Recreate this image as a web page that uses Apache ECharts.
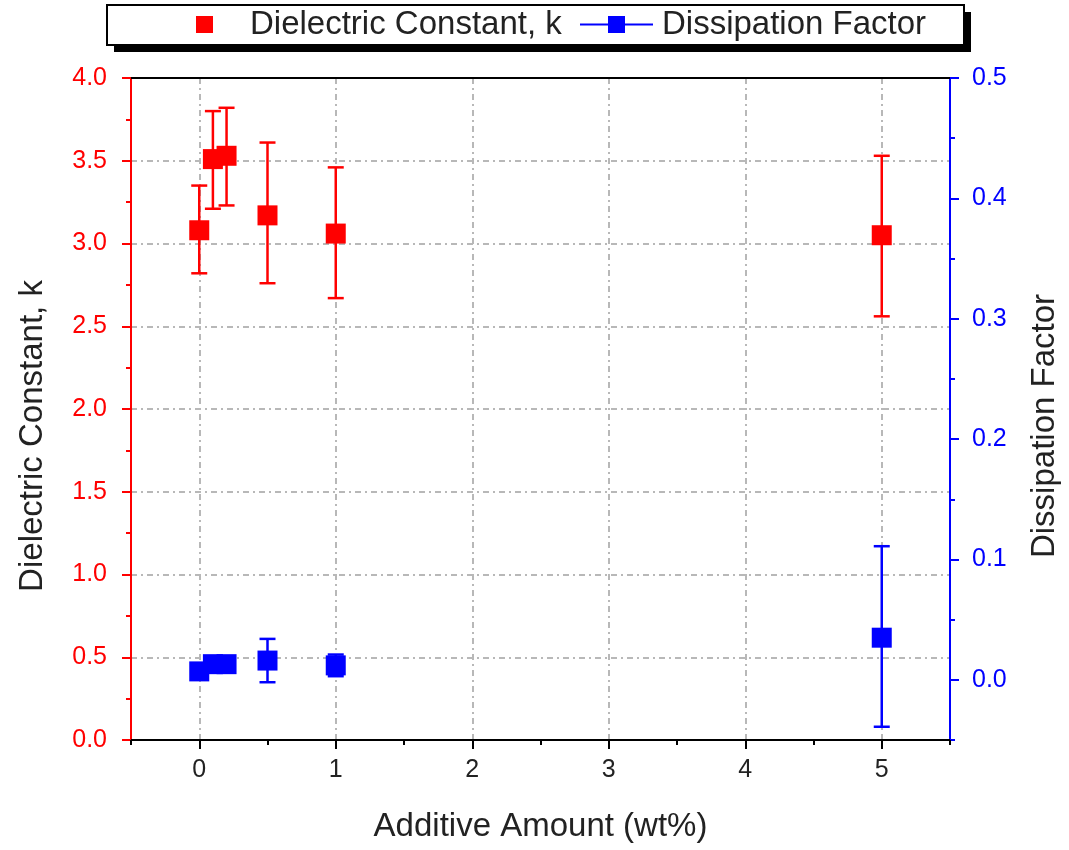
<!DOCTYPE html>
<html lang="en">
<head>
    <meta charset="UTF-8">
    <title>Dielectric Constant / Dissipation Factor</title>
    <script src="https://cdn.jsdelivr.net/npm/echarts@6/dist/echarts.min.js"></script>
    <style>
        html, body { margin: 0; padding: 0; background: #fff; }
        #chart { width: 1069px; height: 850px; }
    </style>
</head>
<body>
<div id="chart"></div>
<script>
    // additive amount (wt%)
    var xValues = [0, 0.1, 0.2, 0.5, 1, 5];
    // dielectric constant k: mean, lower / upper error bar ends
    var kMean = [3.08, 3.51, 3.53, 3.17, 3.06, 3.05];
    var kLow = [2.82, 3.21, 3.23, 2.76, 2.67, 2.56];
    var kHigh = [3.35, 3.80, 3.82, 3.61, 3.46, 3.53];
    // dissipation factor: mean, lower / upper error bar ends
    var dfMean = [0.007, 0.013, 0.013, 0.016, 0.012, 0.035];
    var dfLow = [0.004, 0.010, 0.010, -0.002, 0.003, -0.039];
    var dfHigh = [0.010, 0.016, 0.016, 0.034, 0.021, 0.111];

    // tick positions
    var xMajorTicks = [0, 1, 2, 3, 4, 5];
    var xMinorTicks = [-0.5, 0.5, 1.5, 2.5, 3.5, 4.5, 5.5];
    var dfMajorTicks = [0, 0.1, 0.2, 0.3, 0.4, 0.5];
    var dfMinorTicks = [-0.05, 0.05, 0.15, 0.25, 0.35, 0.45];

    var RED = '#ff0000';
    var BLUE = '#0000ff';
    var FONT = '"Liberation Sans", Arial, sans-serif';

    function pairs(xs, ys) {
        return xs.map(function (x, i) { return [x, ys[i]]; });
    }
    function errRows(xs, lo, hi) {
        return xs.map(function (x, i) { return [x, lo[i], hi[i]]; });
    }

    function errorBar(color) {
        return function (params, api) {
            var top = api.coord([api.value(0), api.value(2)]);
            var bot = api.coord([api.value(0), api.value(1)]);
            var hw = 8;
            var st = { stroke: color, lineWidth: 2.5 };
            return {
                type: 'group',
                children: [
                    { type: 'line', shape: { x1: top[0], y1: top[1], x2: bot[0], y2: bot[1] }, style: st },
                    { type: 'line', shape: { x1: top[0] - hw, y1: top[1], x2: top[0] + hw, y2: top[1] }, style: st },
                    { type: 'line', shape: { x1: bot[0] - hw, y1: bot[1], x2: bot[0] + hw, y2: bot[1] }, style: st }
                ]
            };
        };
    }

    var gridLine = { show: true, lineStyle: { color: '#b8b8b8', width: 2, type: [6, 4, 2, 4] } };

    var myChart = echarts.init(document.getElementById('chart'));
    var option = {
        animation: false,
        backgroundColor: '#fff',
        textStyle: { fontFamily: FONT },
        grid: { left: 131, right: 118, top: 78, bottom: 110 },
        graphic: [
            { type: 'rect', z: 0, shape: { x: 114, y: 12, width: 857, height: 40 }, style: { fill: '#000' } },
            { type: 'rect', z: 0, shape: { x: 107, y: 5, width: 857, height: 40 }, style: { fill: '#fff', stroke: '#000', lineWidth: 2 } }
        ],
        legend: [
            {
                data: ['Dielectric Constant, k'],
                left: 196, top: 8, padding: 0, z: 10,
                icon: 'rect', itemWidth: 17, itemHeight: 17,
                textStyle: { fontSize: 33, color: '#222', fontFamily: FONT, padding: [0, 0, 0, 32] }
            },
            {
                data: ['Dissipation Factor'],
                left: 580, top: 8, padding: 0, z: 10,
                icon: 'path://M0,7.5h28v2h-28z M28,0h17v17h-17z M45,7.5h28v2h-28z',
                itemWidth: 73, itemHeight: 17,
                textStyle: { fontSize: 33, color: '#222', fontFamily: FONT, padding: [0, 0, 0, 4] }
            }
        ],
        xAxis: [
            {
                type: 'value', min: -0.5, max: 5.5, position: 'bottom',
                name: 'Additive Amount (wt%)', nameLocation: 'middle', nameGap: 70,
                nameTextStyle: { fontSize: 33, color: '#222', fontFamily: FONT },
                axisLine: { onZero: false, lineStyle: { color: '#000', width: 2 } },
                axisTick: { customValues: xMajorTicks, length: 9, lineStyle: { color: '#000', width: 2 } },
                axisLabel: { customValues: xMajorTicks, fontSize: 25, color: '#222', margin: 18 },
                splitLine: gridLine
            },
            {
                type: 'value', min: -0.5, max: 5.5, position: 'bottom',
                axisLine: { show: false, onZero: false },
                axisTick: { customValues: xMinorTicks, length: 5, lineStyle: { color: '#000', width: 2 } },
                axisLabel: { show: false },
                splitLine: { show: false }
            },
            {
                type: 'value', min: -0.5, max: 5.5, position: 'top',
                axisLine: { onZero: false, lineStyle: { color: '#000', width: 2 } },
                axisTick: { show: false },
                axisLabel: { show: false },
                splitLine: { show: false }
            }
        ],
        yAxis: [
            {
                type: 'value', min: 0, max: 4, interval: 0.5, position: 'left',
                name: 'Dielectric Constant, k', nameLocation: 'middle', nameGap: 82,
                nameTextStyle: { fontSize: 33, color: '#222', fontFamily: FONT, padding: [0, 54, 0, 0] },
                axisLine: { onZero: false, lineStyle: { color: RED, width: 2 } },
                axisTick: { length: 9, lineStyle: { color: RED, width: 2 } },
                minorTick: { show: true, splitNumber: 2, length: 5, lineStyle: { color: RED, width: 2 } },
                axisLabel: { fontSize: 25, color: RED, margin: 24, formatter: function (v) { return v.toFixed(1); } },
                splitLine: gridLine
            },
            {
                type: 'value', min: -0.05, max: 0.5, position: 'right',
                name: 'Dissipation Factor', nameLocation: 'middle', nameGap: 78,
                nameTextStyle: { fontSize: 33, color: '#222', fontFamily: FONT, padding: [0, 34, 0, 0] },
                axisLine: { onZero: false, lineStyle: { color: BLUE, width: 2 } },
                axisTick: { customValues: dfMajorTicks, length: 9, lineStyle: { color: BLUE, width: 2 } },
                axisLabel: { customValues: dfMajorTicks, fontSize: 25, color: BLUE, margin: 22, formatter: function (v) { return v.toFixed(1); } },
                splitLine: { show: false }
            },
            {
                type: 'value', min: -0.05, max: 0.5, position: 'right',
                axisLine: { show: false, onZero: false },
                axisTick: { customValues: dfMinorTicks, length: 5, lineStyle: { color: BLUE, width: 2 } },
                axisLabel: { show: false },
                splitLine: { show: false }
            }
        ],
        series: [
            {
                name: 'k error', type: 'custom', xAxisIndex: 0, yAxisIndex: 0, z: 3,
                renderItem: errorBar(RED), data: errRows(xValues, kLow, kHigh)
            },
            {
                name: 'df error', type: 'custom', xAxisIndex: 0, yAxisIndex: 1, z: 3,
                renderItem: errorBar(BLUE), data: errRows(xValues, dfLow, dfHigh)
            },
            {
                name: 'Dielectric Constant, k', type: 'scatter', xAxisIndex: 0, yAxisIndex: 0, z: 5,
                symbol: 'rect', symbolSize: 20, itemStyle: { color: RED, opacity: 1 },
                data: pairs(xValues, kMean)
            },
            {
                name: 'Dissipation Factor', type: 'scatter', xAxisIndex: 0, yAxisIndex: 1, z: 5,
                symbol: 'rect', symbolSize: 20, itemStyle: { color: BLUE, opacity: 1 },
                data: pairs(xValues, dfMean)
            }
        ]
    };
    myChart.setOption(option);
</script>
</body>
</html>
